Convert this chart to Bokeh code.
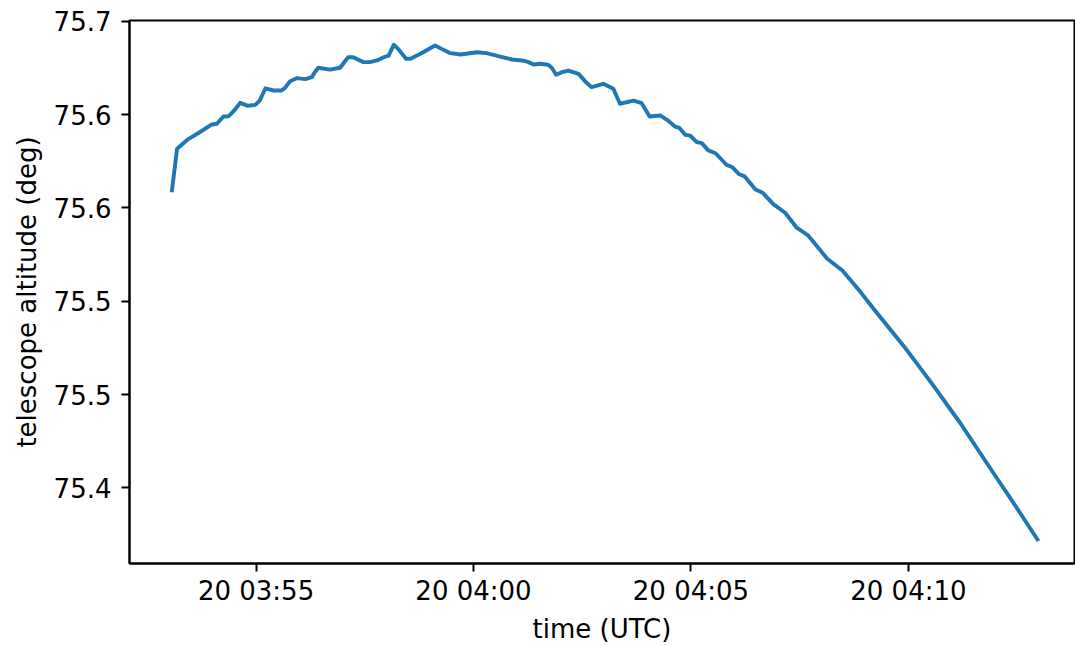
import pandas as pd
from bokeh.plotting import figure
from bokeh.models import Range1d, FixedTicker, DatetimeTickFormatter
from bokeh.embed import file_html
from bokeh.resources import INLINE

day = "2020-01-20"
times = ["03:53:04", "03:53:11", "03:53:27", "03:53:40", "03:53:59", "03:54:06", "03:54:15", "03:54:22",
         "03:54:30", "03:54:38", "03:54:49", "03:54:59", "03:55:05", "03:55:13", "03:55:24", "03:55:35",
         "03:55:40", "03:55:47", "03:55:56", "03:56:08", "03:56:17", "03:56:21", "03:56:26", "03:56:42",
         "03:56:56", "03:57:07", "03:57:14", "03:57:28", "03:57:37", "03:57:47", "03:57:56", "03:58:03",
         "03:58:10", "03:58:16", "03:58:27", "03:58:33", "03:58:42", "03:58:53", "03:59:07", "03:59:16",
         "03:59:28", "03:59:42", "04:00:05", "04:00:18", "04:00:37", "04:00:53", "04:01:07", "04:01:16",
         "04:01:23", "04:01:32", "04:01:43", "04:01:48", "04:01:54", "04:02:02", "04:02:11", "04:02:25",
         "04:02:36", "04:02:43", "04:02:59", "04:03:13", "04:03:22", "04:03:41", "04:03:52", "04:04:03",
         "04:04:18", "04:04:27", "04:04:38", "04:04:44", "04:04:52", "04:04:59", "04:05:08", "04:05:15",
         "04:05:24", "04:05:34", "04:05:49", "04:05:57", "04:06:06", "04:06:14", "04:06:29", "04:06:39",
         "04:06:54", "04:07:10", "04:07:26", "04:07:42", "04:08:08", "04:08:29", "04:08:54", "04:09:12",
         "04:09:54", "04:10:33", "04:11:12", "04:11:58", "04:12:28", "04:12:58"]
altitude = [75.6094, 75.6317, 75.6370, 75.6400, 75.6447, 75.6451, 75.6490, 75.6491,
            75.6522, 75.6563, 75.6547, 75.6552, 75.6575, 75.6641, 75.6629, 75.6629,
            75.6643, 75.6679, 75.6695, 75.6690, 75.6700, 75.6727, 75.6751, 75.6741,
            75.6751, 75.6807, 75.6807, 75.6781, 75.6781, 75.6790, 75.6807, 75.6816,
            75.6874, 75.6852, 75.6799, 75.6799, 75.6816, 75.6839, 75.6870, 75.6852,
            75.6829, 75.6822, 75.6834, 75.6829, 75.6811, 75.6795, 75.6790, 75.6781,
            75.6768, 75.6772, 75.6767, 75.6751, 75.6713, 75.6727, 75.6736, 75.6718,
            75.6670, 75.6647, 75.6665, 75.6638, 75.6558, 75.6575, 75.6561, 75.6490,
            75.6495, 75.6472, 75.6436, 75.6429, 75.6392, 75.6387, 75.6352, 75.6347,
            75.6308, 75.6293, 75.6231, 75.6218, 75.6182, 75.6169, 75.6099, 75.6081,
            75.6019, 75.5974, 75.5894, 75.5851, 75.5728, 75.5665, 75.5549, 75.5460,
            75.5258, 75.5056, 75.4845, 75.4576, 75.4402, 75.4224]

x_tick_times = ["03:55", "04:00", "04:05", "04:10"]
y_ticks = [75.45, 75.50, 75.55, 75.60, 75.65, 75.70]
y_tick_labels = ["75.4", "75.5", "75.5", "75.6", "75.6", "75.7"]

t = pd.to_datetime([f"{day} {s}" for s in times])
x_start = pd.Timestamp(f"{day} 03:52:05.4")
x_end = pd.Timestamp(f"{day} 04:13:49.2")

def to_ms(ts):
    return ts.value / 1e6

FONT = "DejaVu Sans"
FS = "26px"

p = figure(width=1075, height=646, x_axis_type="datetime",
           output_backend="svg", toolbar_location=None,
           x_range=Range1d(x_start, x_end), y_range=Range1d(75.4095, 75.7004),
           min_border_left=129, min_border_right=1, min_border_top=20, min_border_bottom=83)

p.line(t, altitude, line_color="#1f77b4", line_width=3.9, line_join="round", line_cap="square")

p.xgrid.visible = False
p.ygrid.visible = False
p.background_fill_color = "white"
p.border_fill_color = "white"
p.outline_line_color = "black"
p.outline_line_width = 2

p.xaxis.ticker = FixedTicker(ticks=[to_ms(pd.Timestamp(f"{day} {s}")) for s in x_tick_times])
fmt = "%d %H:%M"
p.xaxis.formatter = DatetimeTickFormatter(milliseconds=fmt, seconds=fmt, minsec=fmt, minutes=fmt,
                                          hourmin=fmt, hours=fmt, days=fmt, months=fmt, years=fmt,
                                          context=None)
p.yaxis.ticker = FixedTicker(ticks=y_ticks)
p.yaxis.major_label_overrides = {v: l for v, l in zip(y_ticks, y_tick_labels)}

p.xaxis.axis_label = "time (UTC)"
p.yaxis.axis_label = "telescope altitude (deg)"

for ax in (p.xaxis[0], p.yaxis[0]):
    ax.axis_line_color = "black"
    ax.axis_line_width = 2
    ax.major_tick_line_color = "black"
    ax.major_tick_line_width = 2
    ax.major_tick_out = 8
    ax.major_tick_in = 0
    ax.minor_tick_line_color = None
    ax.major_label_text_font = FONT
    ax.major_label_text_font_size = FS
    ax.major_label_text_color = "black"
    ax.axis_label_text_font = FONT
    ax.axis_label_text_font_size = FS
    ax.axis_label_text_font_style = "normal"
    ax.axis_label_text_color = "black"

p.xaxis.major_label_standoff = 4
p.xaxis.axis_label_standoff = 5
p.yaxis.major_label_standoff = 10
p.yaxis.axis_label_standoff = 9

open("out.html", "w").write(file_html(p, INLINE))
